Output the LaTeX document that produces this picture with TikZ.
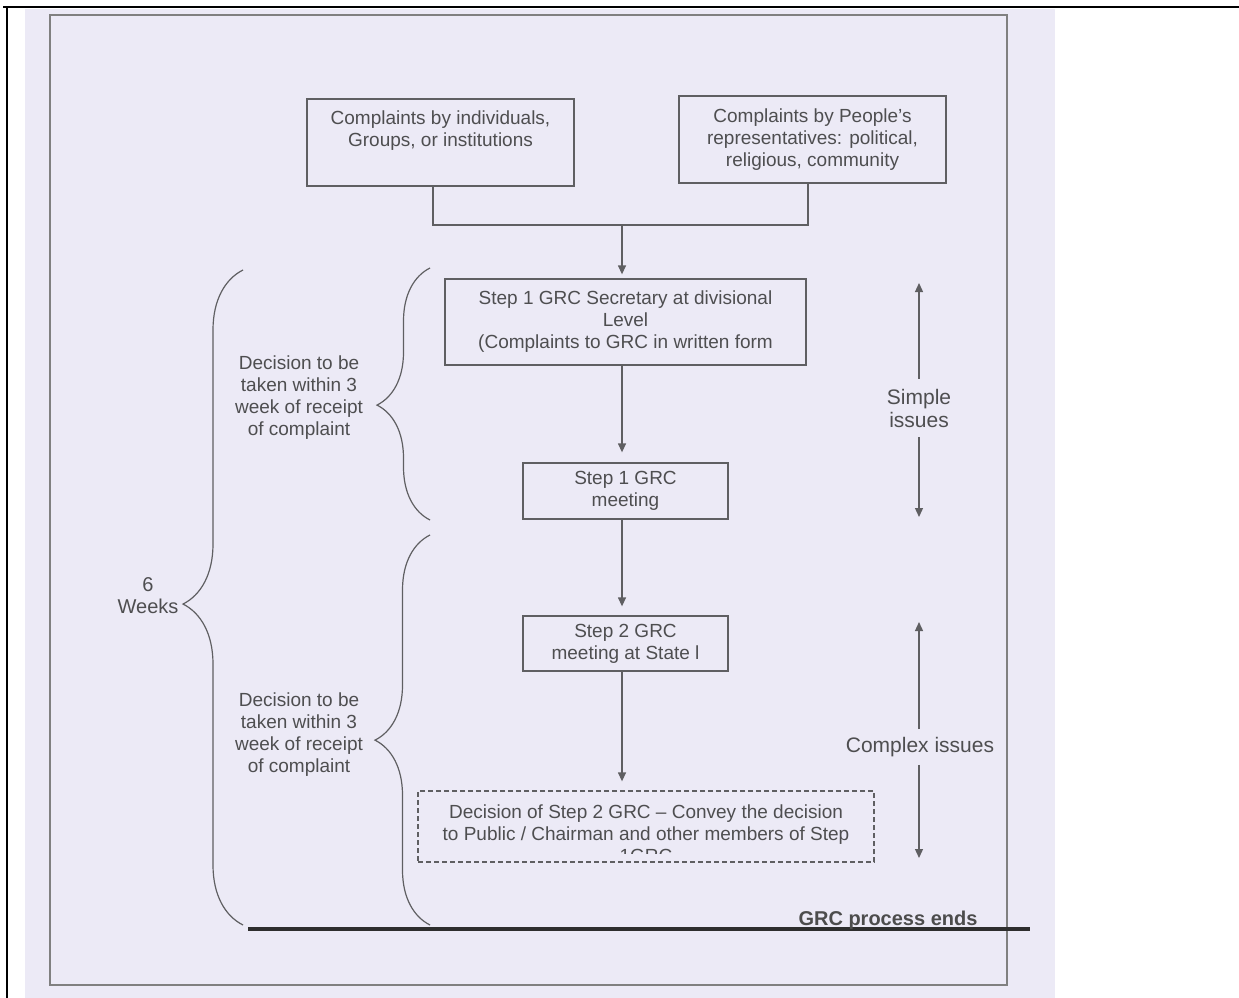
\documentclass[tikz,border=0pt]{standalone}
\usepackage{fontspec}
\setmainfont{Liberation Sans}
\usetikzlibrary{arrows.meta,decorations.pathreplacing}
\definecolor{paper}{RGB}{236,234,246}
\definecolor{ink}{RGB}{78,78,80}
\definecolor{linec}{RGB}{95,95,98}
\tikzset{
 box/.style={draw=linec, line width=1.3pt, text=ink, align=center, inner sep=0pt, font=\fontsize{19}{22}\selectfont},
 lbl/.style={text=ink, align=center, inner sep=0pt, font=\fontsize{19}{22}\selectfont},
 biglbl/.style={text=ink, align=center, inner sep=0pt, font=\fontsize{21}{23}\selectfont},
 conn/.style={draw=linec, line width=1.3pt},
 flow/.style={draw=linec, line width=1.3pt, -{Triangle[length=9pt,width=8pt]}},
 brc/.style={draw=linec, line width=1.2pt, decorate},
}
\begin{document}
\begin{tikzpicture}[x=1pt,y=-1pt]
\useasboundingbox (0,0) rectangle (1239,998);
\fill[white] (0,0) rectangle (1239,998);
\fill[paper] (25,9) rectangle (1055,998);
\draw[black, line width=2pt] (3,7) -- (1239,7);
\draw[black, line width=2pt] (7,7) -- (7,998);
\draw[gray, line width=1.5pt] (50,15) rectangle (1007,985);

% boxes
\node[box, minimum width=267pt, minimum height=87pt] (A) at (440.5,142.5) {Complaints by individuals,\\ Groups, or institutions\\ \strut};
\node[box, minimum width=267pt, minimum height=87pt] (B) at (812.5,139.5) {Complaints by People’s\\ representatives: political,\\ religious, community};
\node[box, minimum width=361pt, minimum height=86pt] (C) at (625.5,322) {Step 1 GRC Secretary at divisional\\ Level\\ (Complaints to GRC in written form};
\node[box, minimum width=205pt, minimum height=56pt] (D) at (625.5,491) {Step 1 GRC\\ meeting};
\node[box, minimum width=205pt, minimum height=55pt] (E) at (625.5,643.5) {Step 2 GRC\\ meeting at State l};
\node[box, dash pattern=on 5pt off 3pt, minimum width=456pt, minimum height=71pt] (F) at (646,826.5) {};
\begin{scope}
\clip (F.north west) rectangle ([yshift=9pt]F.south east);
\node[lbl] (Ft) at (646,834) {Decision of Step 2 GRC – Convey the decision\\ to Public / Chairman and other members of Step\\ 1GRC};
\end{scope}

% connectors
\coordinate (Ja) at (433,225);
\coordinate (Jb) at (808,225);
\coordinate (J) at (622,225);
\draw[conn] (Ja |- A.south) -- (Ja) -- (Jb) -- (Jb |- B.south);
\draw[flow, shorten >=4pt] (J) -- (J |- C.north);
\draw[flow, shorten >=10pt] (J |- C.south) -- (J |- D.north);
\draw[flow, shorten >=9pt] (J |- D.south) -- (J |- E.north);
\draw[flow, shorten >=9pt] (J |- E.south) -- (J |- F.north);

% right side labels
\node[biglbl] (S) at (919,408) {Simple\\ issues};
\coordinate (St) at (919,283);
\coordinate (Sb) at (919,517);
\draw[flow, shorten <=10pt] (S.north) -- (St);
\draw[flow, shorten <=10pt] (S.south) -- (Sb);
\node[biglbl] (X) at (920,747) {Complex issues};
\coordinate (Xt) at (919,622);
\coordinate (Xb) at (919,858);
\draw[flow, shorten <=8pt] (X.north -| Xt) -- (Xt);
\draw[flow, shorten <=8pt] (X.south -| Xb) -- (Xb);

% braces
\draw[brc, decoration={brace, amplitude=60pt, aspect=0.49}] (243,925) -- (243,270);
\draw[brc, decoration={brace, amplitude=53pt, aspect=0.456}] (430,520) -- (430,268);
\draw[brc, decoration={brace, amplitude=55pt, aspect=0.474}] (430,925) -- (430,535);
\node[lbl, font=\fontsize{20}{22}\selectfont] (W) at (148,596) {6\\ Weeks};
\node[lbl] (L1) at (299,398) {Decision to be\\ taken within 3\\ week of receipt\\ of complaint};
\node[lbl] (L2) at (299,735) {Decision to be\\ taken within 3\\ week of receipt\\ of complaint};

% end line
\draw[draw=black!82, line width=4pt] (248,929) -- (1030,929);
\node[text=black!70, anchor=base, inner sep=0pt, font=\fontsize{20}{22}\selectfont\bfseries] (End) at (888,925) {GRC process ends};
\end{tikzpicture}
\end{document}
